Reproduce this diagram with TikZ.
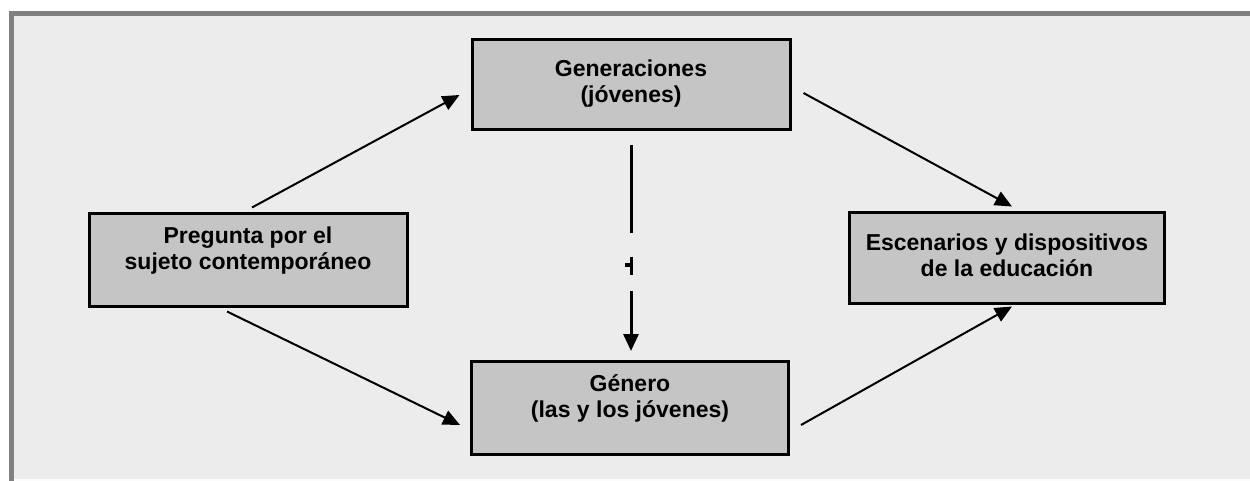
\documentclass[tikz,border=0pt]{standalone}
\usepackage{fontspec}
\setmainfont{Liberation Sans}
\usetikzlibrary{arrows.meta,calc}
\definecolor{bgc}{RGB}{236,236,236}
\definecolor{framec}{RGB}{128,128,128}
\definecolor{boxc}{RGB}{197,197,197}
\tikzset{
  box/.style={draw=black,line width=3pt,fill=boxc,inner sep=0pt},
  txt/.style={align=center,font=\fontsize{23}{26}\selectfont\bfseries,inner sep=0pt},
  arr/.style={draw=black,line width=2pt,-{Triangle[length=17pt,width=15pt]}},
}
\begin{document}
\begin{tikzpicture}[x=1pt,y=-1pt]
\useasboundingbox (0,0) rectangle (1250,481);
\fill[white] (0,0) rectangle (1250,481);
\fill[bgc] (9,11) rectangle (1250,481);
\fill[framec] (9,11) rectangle (1250,16);
\fill[framec] (9,11) rectangle (14,481);
\fill[white!85!bgc] (14,479) rectangle (1250,481);
% boxes
\node[box,minimum width=318pt,minimum height=90pt] (T) at (631,85) {};
\node[box,minimum width=318pt,minimum height=92pt] (L) at (248,260) {};
\node[box,minimum width=315pt,minimum height=90pt] (R) at (1007,258) {};
\node[box,minimum width=317pt,minimum height=93pt] (B) at (630,408) {};
% texts
\node[txt] (tT) at (631,84) {Generaciones\\(jóvenes)};
\node[txt] (tL) at (248,251) {Pregunta por el\\sujeto contemporáneo};
\node[txt] (tR) at (1007,255) {Escenarios y dispositivos\\de la educación};
\node[txt] (tB) at (630,398) {Género\\(las y los jóvenes)};
% connectors
\coordinate (a1) at ($(L.north)+(4,-5)$);
\coordinate (a2) at ($(T.west)+(-11,10)$);
\draw[arr] (a1) -- (a2);
\coordinate (b1) at ($(T.east)+(12,8)$);
\coordinate (b2) at ($(R.north)+(5,-5)$);
\draw[arr] (b1) -- (b2);
\coordinate (c1) at ($(L.south)+(-21,4)$);
\coordinate (c2) at ($(B.west)+(-10,17)$);
\draw[arr] (c1) -- (c2);
\coordinate (d1) at ($(B.east)+(11,17)$);
\coordinate (d2) at ($(R.south)+(5,2)$);
\draw[arr] (d1) -- (d2);
% vertical connector
\coordinate (v1) at ($(T.south)+(0,14)$);
\coordinate (v2) at ($(B.north)+(1,-9)$);
\draw[arr,line width=3pt,dash pattern=on 88pt off 23pt on 18pt off 16pt on 60pt] (v1) -- (v2);
\fill (625,263) rectangle (630,267);
\end{tikzpicture}
\end{document}
